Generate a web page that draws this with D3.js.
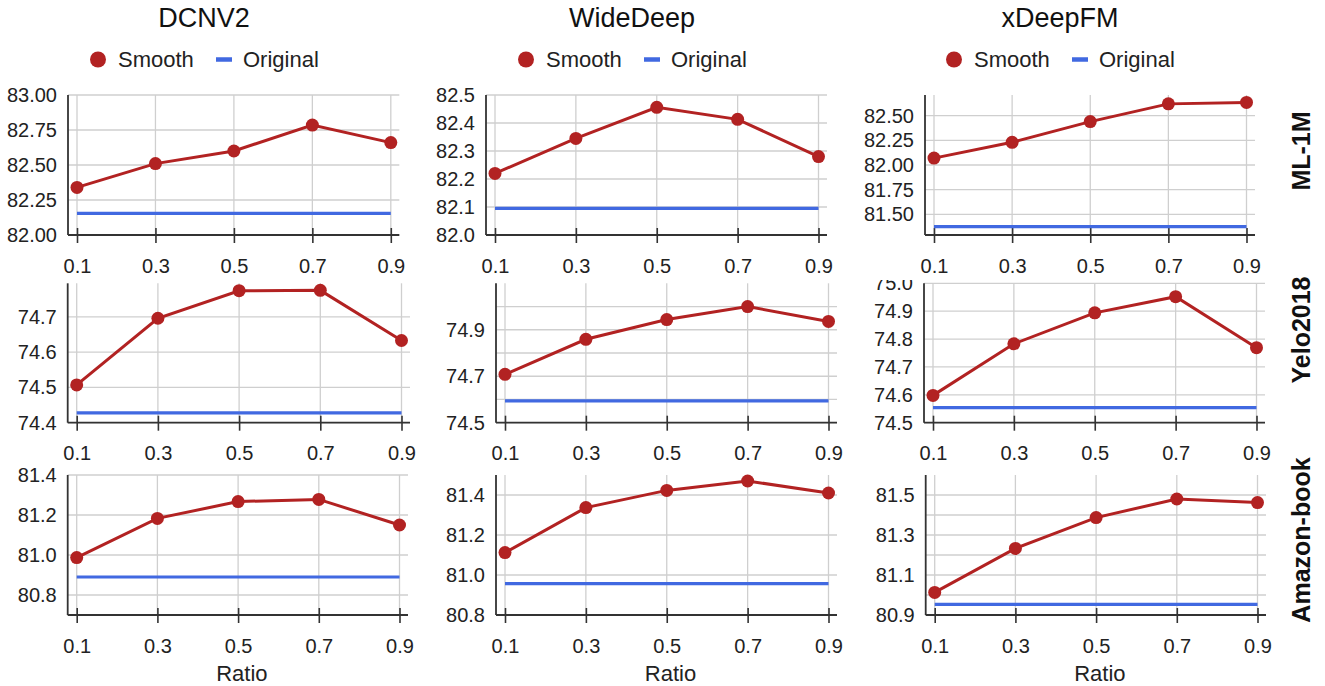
<!DOCTYPE html>
<html>
<head>
<meta charset="utf-8">
<script src="https://cdn.jsdelivr.net/npm/d3@7"></script>
<style>
  html, body { margin: 0; padding: 0; background: #fff; }
  svg { display: block; font-family: "Liberation Sans", Arial, Helvetica, sans-serif; }
</style>
</head>
<body>
<svg id="chart" width="1325" height="686"></svg>
<script>
// ---------------- DATA ----------------
const models = ["DCNV2", "WideDeep", "xDeepFM"];
const datasets = ["ML-1M", "Yelo2018", "Amazon-book"];
const ratios = [0.1, 0.3, 0.5, 0.7, 0.9];
const ratioLabels = ["0.1", "0.3", "0.5", "0.7", "0.9"];
const seriesNames = ["Smooth", "Original"];

// Smooth values [dataset][model] over ratios
const smoothML1M   = [[82.34, 82.51, 82.60, 82.785, 82.66],
                      [82.22, 82.345, 82.456, 82.413, 82.28],
                      [82.07, 82.23, 82.44, 82.62, 82.635]];
const smoothYelp   = [[74.507, 74.696, 74.774, 74.775, 74.633],
                      [74.708, 74.859, 74.944, 75.0, 74.936],
                      [74.598, 74.783, 74.894, 74.952, 74.769]];
const smoothAmazon = [[80.987, 81.183, 81.267, 81.278, 81.15],
                      [81.112, 81.337, 81.423, 81.47, 81.41],
                      [81.013, 81.233, 81.387, 81.48, 81.462]];
const smoothValues = [smoothML1M, smoothYelp, smoothAmazon];

// Original (baseline) values [dataset][model]
const originalValues = [[82.155, 82.095, 81.374],
                        [74.428, 74.594, 74.554],
                        [80.89, 80.957, 80.953]];

// Y axis domains, gridline ticks, labelled ticks, label format
const yDomains = [[[82.0, 83.0], [82.0, 82.5], [81.29, 82.71]],
                  [[74.4, 74.795], [74.5, 75.1], [74.5, 75.0]],
                  [[80.7, 81.4], [80.8, 81.5], [80.9, 81.6]]];
const yGridTicks = [[[82.0, 82.25, 82.5, 82.75, 83.0], [82.0, 82.1, 82.2, 82.3, 82.4, 82.5], [81.5, 81.75, 82.0, 82.25, 82.5]],
                    [[74.4, 74.5, 74.6, 74.7], [74.5, 74.6, 74.7, 74.8, 74.9, 75.0], [74.5, 74.6, 74.7, 74.8, 74.9, 75.0]],
                    [[80.8, 81.0, 81.2, 81.4], [80.8, 81.0, 81.2, 81.4], [80.9, 81.0, 81.1, 81.2, 81.3, 81.4, 81.5]]];
const yLabelTicks = [[[82.0, 82.25, 82.5, 82.75, 83.0], [82.0, 82.1, 82.2, 82.3, 82.4, 82.5], [81.5, 81.75, 82.0, 82.25, 82.5]],
                     [[74.4, 74.5, 74.6, 74.7], [74.5, 74.7, 74.9], [74.5, 74.6, 74.7, 74.8, 74.9, 75.0]],
                     [[80.8, 81.0, 81.2, 81.4], [80.8, 81.0, 81.2, 81.4], [80.9, 81.1, 81.3, 81.5]]];
const yFormats = [[".2f", ".1f", ".2f"], [".1f", ".1f", ".1f"], [".1f", ".1f", ".1f"]];

// ---------------- LAYOUT ----------------
const rowBox = [{top: 95, bottom: 235, clip: 80}, {top: 283.3, bottom: 422.7, clip: 280}, {top: 475, bottom: 615, clip: 460}];
const colBox = [[{l: 68, r: 399.3}, {l: 486, r: 827}, {l: 925, r: 1255}],
                [{l: 67.7, r: 410}, {l: 496, r: 837}, {l: 924, r: 1265}],
                [{l: 67.7, r: 408}, {l: 496, r: 837}, {l: 925.7, r: 1266}]];
const colCenters = [204, 632, 1060];
const rowLabelY = [151, 330, 540];

const RED = "#b22222", BLUE = "#4169e1", GRID = "#cfcfcf", AXIS = "#333";

const svg = d3.select("#chart");
const defs = svg.append("defs");
rowBox.forEach((rb, r) => {
  defs.append("clipPath").attr("id", "rowclip" + r)
    .append("rect").attr("x", 0).attr("y", rb.clip).attr("width", 1325).attr("height", 686 - rb.clip);
});

// column titles + legends
models.forEach((m, c) => {
  const cx = colCenters[c];
  svg.append("text").attr("x", cx).attr("y", 27).attr("text-anchor", "middle")
    .attr("font-size", 27).attr("fill", "#111").text(m);
  const lg = svg.append("g").attr("transform", `translate(${cx},0)`);
  lg.append("circle").attr("cx", -106).attr("cy", 59.5).attr("r", 8).attr("fill", RED);
  lg.append("text").attr("x", -86).attr("y", 67).attr("font-size", 22).attr("fill", "#222").text(seriesNames[0]);
  lg.append("line").attr("x1", 12).attr("x2", 28).attr("y1", 59.5).attr("y2", 59.5)
    .attr("stroke", BLUE).attr("stroke-width", 4.5);
  lg.append("text").attr("x", 39).attr("y", 67).attr("font-size", 22).attr("fill", "#222").text(seriesNames[1]);
});

// row labels
datasets.forEach((d, r) => {
  svg.append("text")
    .attr("transform", `translate(1310,${rowLabelY[r]}) rotate(-90)`)
    .attr("text-anchor", "middle").attr("font-size", 25).attr("font-weight", "bold")
    .attr("fill", "#111").text(d);
});

// panels
datasets.forEach((ds, r) => {
  models.forEach((m, c) => {
    const box = colBox[r][c];
    const top = rowBox[r].top, bottom = rowBox[r].bottom;
    const x = d3.scaleLinear().domain([0.1, 0.9]).range([box.l + 9, box.r - 8.5]);
    const y = d3.scaleLinear().domain(yDomains[r][c]).range([bottom, top]);
    const g = svg.append("g");

    // horizontal grid
    g.append("g").selectAll("line").data(yGridTicks[r][c]).join("line")
      .attr("x1", box.l).attr("x2", box.r)
      .attr("y1", d => y(d)).attr("y2", d => y(d))
      .attr("stroke", GRID).attr("stroke-width", 1.3);
    // vertical grid
    g.append("g").selectAll("line").data(ratios).join("line")
      .attr("x1", d => x(d)).attr("x2", d => x(d))
      .attr("y1", top).attr("y2", bottom)
      .attr("stroke", GRID).attr("stroke-width", 1.3);

    // y axis labels
    const ya = g.append("g").attr("clip-path", `url(#rowclip${r})`)
      .append("g").attr("transform", `translate(${box.l},0)`)
      .call(d3.axisLeft(y).tickValues(yLabelTicks[r][c]).tickSize(0).tickPadding(11)
        .tickFormat(d3.format(yFormats[r][c])));
    ya.select(".domain").remove();
    ya.selectAll("text").attr("font-size", 20).attr("fill", "#222")
      .attr("font-family", "Liberation Sans, Arial, sans-serif");

    // axis lines
    g.append("line").attr("x1", box.l).attr("x2", box.l).attr("y1", top).attr("y2", bottom)
      .attr("stroke", AXIS).attr("stroke-width", 1.8);

    // x axis
    const xa = g.append("g").attr("transform", `translate(0,${bottom})`)
      .call(d3.axisBottom(x).tickValues(ratios).tickFormat((d, i) => ratioLabels[i]));
    xa.select(".domain").remove();
    xa.selectAll(".tick line").attr("y1", -7).attr("y2", 8).attr("stroke", AXIS).attr("stroke-width", 1.6);
    xa.selectAll(".tick text").attr("y", 37.5).attr("dy", 0).attr("font-size", 20).attr("fill", "#222")
      .attr("font-family", "Liberation Sans, Arial, sans-serif");
    g.append("line").attr("x1", box.l).attr("x2", box.r).attr("y1", bottom).attr("y2", bottom)
      .attr("stroke", AXIS).attr("stroke-width", 1.8);

    // Original line
    const orig = originalValues[r][c];
    g.append("path").datum(ratios)
      .attr("d", d3.line().x(d => x(d)).y(() => y(orig)))
      .attr("fill", "none").attr("stroke", BLUE).attr("stroke-width", 3.2);

    // Smooth line + markers
    const vals = smoothValues[r][c];
    g.append("path").datum(vals)
      .attr("d", d3.line().x((d, i) => x(ratios[i])).y(d => y(d)))
      .attr("fill", "none").attr("stroke", RED).attr("stroke-width", 3);
    g.append("g").selectAll("circle").data(vals).join("circle")
      .attr("cx", (d, i) => x(ratios[i])).attr("cy", d => y(d)).attr("r", 6.5).attr("fill", RED);

    // Ratio label on bottom row
    if (r === datasets.length - 1) {
      svg.append("text").attr("x", (box.l + box.r) / 2 + 4).attr("y", 681)
        .attr("text-anchor", "middle").attr("font-size", 22).attr("fill", "#222").text("Ratio");
    }
  });
});
</script>
</body>
</html>
